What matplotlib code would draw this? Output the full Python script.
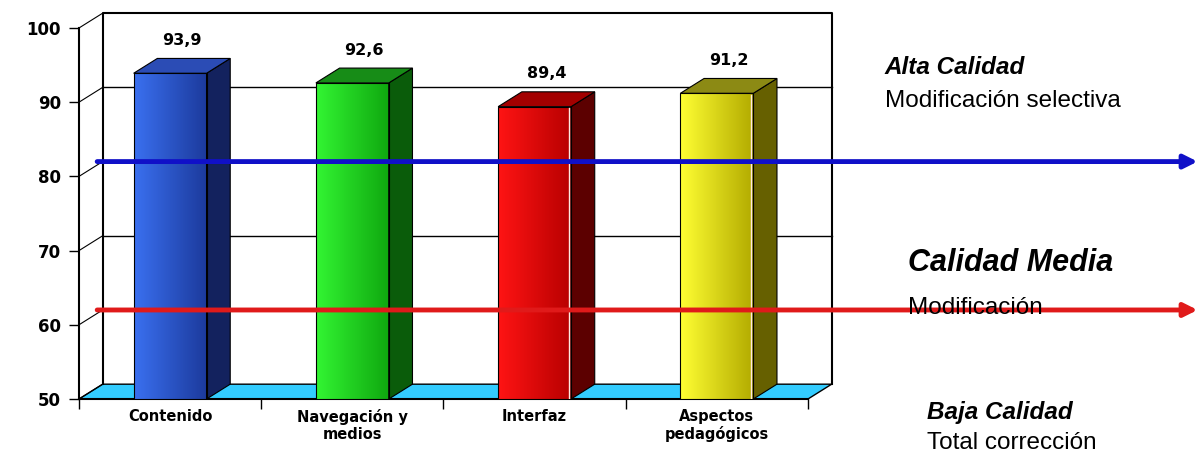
import matplotlib.pyplot as plt
import numpy as np
from matplotlib.patches import Polygon
from matplotlib.colors import LinearSegmentedColormap

# data
categories = ['Contenido', 'Navegación y\nmedios', 'Interfaz', 'Aspectos\npedagógicos']
values = [93.9, 92.6, 89.4, 91.2]
value_labels = ['93,9', '92,6', '89,4', '91,2']
y_ticks = [50, 60, 70, 80, 90, 100]
thresholds = [80, 60]
threshold_colors = ['#1010c8', '#e01a1a']
levels = ['Alta Calidad', 'Calidad Media', 'Baja Calidad']
level_notes = ['Modificación selectiva', 'Modificación', 'Total corrección']

# bar colours: front (light -> dark), side, top
front_light = ['#3a70f0', '#33f533', '#ff1414', '#ffff33']
front_dark = ['#1c3a9c', '#0fa80f', '#b80000', '#b3ab00']
side_cols = ['#13225e', '#0a5c0a', '#5c0000', '#666000']
top_cols = ['#2b4cb5', '#178c17', '#a30000', '#8c8a14']
floor_col = '#33ccff'

fig = plt.figure(figsize=(12, 4.54), dpi=100)
ax = fig.add_axes([0.0658, 0.1211, 0.6075, 0.8172])
ax.set_facecolor('none')

dx, dy = 0.13, 2.0   # depth offset of the 3d look (data units)
w = 0.4
n = len(categories)
x = np.arange(n) + 0.5

# floor
ax.add_patch(Polygon([(0, 50), (n, 50), (n + dx, 50 + dy), (dx, 50 + dy)],
                     closed=True, fc=floor_col, ec='black', lw=1, clip_on=False, zorder=1))
# back wall
ax.plot([dx, dx, n + dx, n + dx], [50 + dy, 100 + dy, 100 + dy, 50 + dy],
        color='black', lw=1.5, clip_on=False, zorder=1)
for t in y_ticks[1:-1]:
    ax.plot([dx, n + dx], [t + dy, t + dy], color='black', lw=1, clip_on=False, zorder=1)
for t in y_ticks:
    ax.plot([0, dx], [t, t + dy], color='black', lw=0.8, clip_on=False, zorder=1)

# bars: front faces with gradient, plus side and top
bars = ax.bar(x, [v - 50 for v in values], width=w, bottom=50,
              color='none', edgecolor='black', lw=0.8, zorder=4)
grad = np.linspace(0, 1, 256).reshape(1, -1)
for i, b in enumerate(bars):
    x0 = b.get_x()
    x1 = x0 + b.get_width()
    v = values[i]
    cmap = LinearSegmentedColormap.from_list('g%d' % i, [front_light[i], front_dark[i]])
    im = ax.imshow(grad, extent=[x0, x1, 50, v], aspect='auto', cmap=cmap, zorder=3)
    im.set_clip_path(b)
    ax.add_patch(Polygon([(x1, 50), (x1 + dx, 50 + dy), (x1 + dx, v + dy), (x1, v)],
                         closed=True, fc=side_cols[i], ec='black', lw=0.8, zorder=3))
    ax.add_patch(Polygon([(x0, v), (x1, v), (x1 + dx, v + dy), (x0 + dx, v + dy)],
                         closed=True, fc=top_cols[i], ec='black', lw=0.8, zorder=3))
    if i >= 2:
        # thin light edge on red and yellow bars
        ax.plot([x1 - 0.012, x1 - 0.012], [50.2, v - 0.2], color='#ffe8e0', lw=1, zorder=4)

for xi, v, lab in zip(x, values, value_labels):
    ax.text(xi + dx / 2, v + dy + 1.4, lab, ha='center', va='bottom',
            fontsize=11.5, fontweight='bold')

# threshold arrows
for t, c in zip(thresholds, threshold_colors):
    ax.annotate('', xy=(0.998, t + dy), xycoords=('figure fraction', 'data'),
                xytext=(0.1, t + dy), textcoords='data',
                arrowprops=dict(arrowstyle='-|>', color=c, lw=3.5, mutation_scale=20,
                                shrinkA=0, shrinkB=0),
                zorder=6, annotation_clip=False)

ax.set_xlim(0, n)
ax.set_ylim(50, 100)
ax.set_yticks(y_ticks)
ax.set_yticklabels([str(t) for t in y_ticks], fontweight='bold', fontsize=12)
ax.tick_params(axis='y', length=7, width=1, pad=6)
ax.set_xticks(range(n + 1))
ax.set_xticklabels([])
ax.tick_params(axis='x', which='major', length=7, width=1)
ax.set_xticks(x, minor=True)
ax.set_xticklabels(categories, minor=True, fontweight='bold', fontsize=10.5)
ax.tick_params(axis='x', which='minor', length=0, pad=7)
for s in ['top', 'right']:
    ax.spines[s].set_visible(False)
for s in ['left', 'bottom']:
    ax.spines[s].set_linewidth(1.5)

# quality level texts on the right
level_pos = [(885, 67), (908, 263), (927, 412)]
note_pos = [(885, 101), (908, 308), (927, 443)]
level_size = [17.5, 22, 17.5]
for lab, note, (lx, ly), (nx, ny), fs in zip(levels, level_notes, level_pos, note_pos, level_size):
    fig.text(lx / 1200, 1 - ly / 454, lab, fontsize=fs, fontweight='bold', style='italic',
             family='Liberation Sans', va='center')
    fig.text(nx / 1200, 1 - ny / 454, note, fontsize=17.5, family='Liberation Sans',
             va='center', zorder=1)

fig.savefig('out.png', dpi=100)
